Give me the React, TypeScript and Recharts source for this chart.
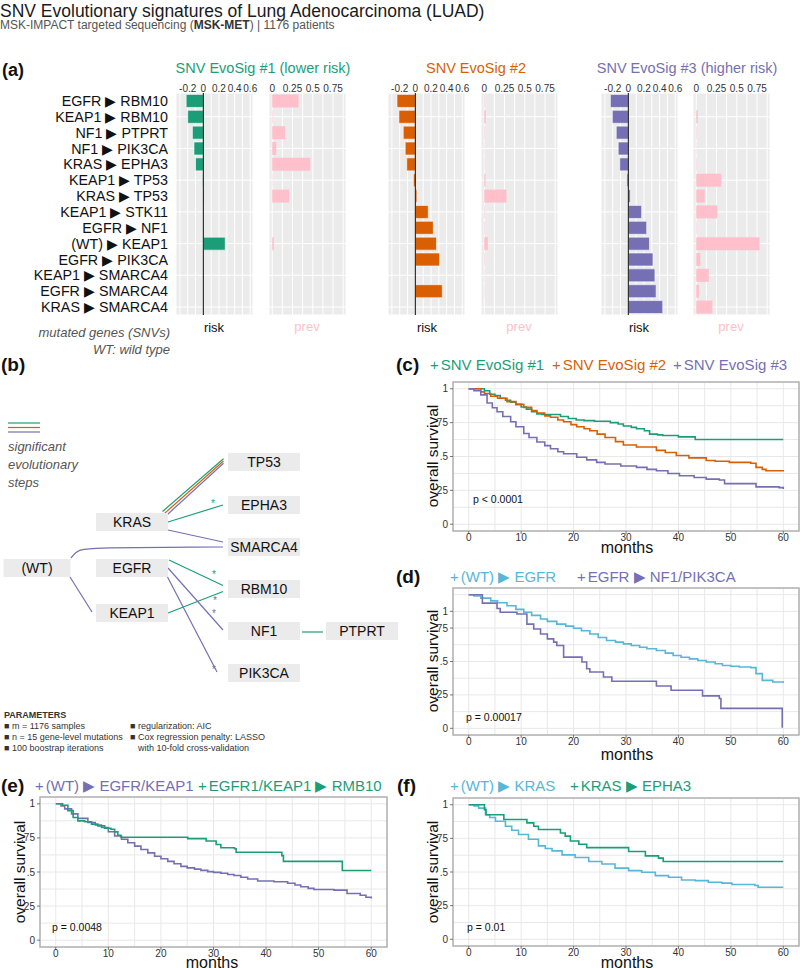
import React from 'react';
import {
  BarChart, Bar, XAxis, YAxis, CartesianGrid, ReferenceLine, LineChart, Line,
  ComposedChart, Scatter, ReferenceArea,
} from 'recharts';

const GREEN = '#1b9e77';
const ORANGE = '#d95f02';
const PURPLE = '#7570b3';
const PINK = '#ffc0cb';
const CYAN = '#56b7d6';
const FONT = '"Liberation Sans", Arial, sans-serif';

// ---- panel (a): evolutionary steps, risk and prevalence per signature ----
const steps = [
  'EGFR ▶ RBM10', 'KEAP1 ▶ RBM10', 'NF1 ▶ PTPRT', 'NF1 ▶ PIK3CA', 'KRAS ▶ EPHA3',
  'KEAP1 ▶ TP53', 'KRAS ▶ TP53', 'KEAP1 ▶ STK11', 'EGFR ▶ NF1', '(WT) ▶ KEAP1',
  'EGFR ▶ PIK3CA', 'KEAP1 ▶ SMARCA4', 'EGFR ▶ SMARCA4', 'KRAS ▶ SMARCA4',
];
const risk1 = [-0.22, -0.2, -0.14, -0.12, -0.1, -0.01, 0.01, 0, 0, 0.28, 0, 0, 0, 0];
const prev1 = [0.325, 0.005, 0.16, 0.05, 0.47, 0.003, 0.21, 0, 0, 0.02, 0, 0, 0, 0];
const risk2 = [-0.235, -0.21, -0.155, -0.13, -0.11, -0.025, 0.02, 0.165, 0.23, 0.27, 0.31, 0, 0.345, 0];
const prev2 = [0.005, 0.02, 0.005, 0.003, 0.003, 0.015, 0.275, 0.005, 0.005, 0.045, 0.005, 0.003, 0.003, 0];
const risk3 = [-0.23, -0.205, -0.155, -0.13, -0.11, -0.02, 0.025, 0.17, 0.235, 0.27, 0.315, 0.34, 0.355, 0.44];
const prev3 = [0, 0.02, 0.005, 0.003, 0.005, 0.31, 0.105, 0.26, 0.005, 0.78, 0.05, 0.155, 0.035, 0.2];

const riskTicks = [-0.3, -0.2, -0.1, 0, 0.1, 0.2, 0.3, 0.4, 0.5, 0.6];
const riskLabels: Record<string, string> = { '-0.2': '-0.2', '0': '0', '0.2': '0.2', '0.4': '0.4', '0.6': '0.6' };
const prevTicks = [0, 0.125, 0.25, 0.375, 0.5, 0.625, 0.75, 0.875];
const prevLabels: Record<string, string> = { '0': '0', '0.25': '0.25', '0.5': '0.5', '0.75': '0.75' };

// ---- panel (b): evolutionary tree (layout units) ----
const treeNodes = [
  { gene: 'TP53', x: 264, y: 462 }, { gene: 'EPHA3', x: 264, y: 505 },
  { gene: 'KRAS', x: 132, y: 522 }, { gene: 'SMARCA4', x: 264, y: 547 },
  { gene: '(WT)', x: 37, y: 568, w: 67 }, { gene: 'EGFR', x: 132, y: 568 },
  { gene: 'RBM10', x: 264, y: 589 }, { gene: 'KEAP1', x: 132, y: 613 },
  { gene: 'NF1', x: 264, y: 631 }, { gene: 'PTPRT', x: 362, y: 631 },
  { gene: 'PIK3CA', x: 264, y: 673 },
];
const treeEdges = [
  { from: [162.5, 511.5], to: [223.5, 458.8], color: GREEN },
  { from: [164.3, 513.6], to: [223.5, 461], color: ORANGE },
  { from: [166.1, 515.7], to: [223.5, 463.2], color: PURPLE },
  { from: [168, 522], to: [223, 505], color: GREEN },
  { from: [168, 530], to: [223, 542], color: PURPLE },
  { from: [70, 577], to: [92, 612], color: PURPLE },
  { from: [169, 560], to: [223, 585.5], color: GREEN },
  { from: [168, 613], to: [223, 591.5], color: GREEN },
  { from: [168, 568], to: [223, 630], color: PURPLE },
  { from: [167, 576], to: [217, 672], color: PURPLE },
  { from: [302, 632], to: [323, 632], color: GREEN },
  { from: [8, 423], to: [40, 423], color: GREEN },
  { from: [8, 427.5], to: [40, 427.5], color: ORANGE },
  { from: [8, 432], to: [40, 432], color: PURPLE },
];
const wtToSmarca4 = [
  { x: 71, y: 558 }, { x: 76, y: 552.5 }, { x: 84, y: 549.3 }, { x: 110, y: 547.8 }, { x: 223, y: 547 },
];
const treeStars = [
  { x: 213, y: 503, color: GREEN }, { x: 214, y: 574, color: GREEN }, { x: 215, y: 600, color: GREEN },
  { x: 214, y: 613, color: PURPLE }, { x: 214, y: 669, color: PURPLE },
];

// ---- survival curves [month, survival] ----
const survC1 = [[0, 1], [1.5, 1], [3, 0.985], [4, 0.96], [5, 0.95], [6, 0.93], [7, 0.915], [8, 0.9], [9, 0.885], [10, 0.865], [11, 0.85], [12, 0.83], [13, 0.815], [14, 0.81], [16.5, 0.81], [17.5, 0.795], [19, 0.78], [20.5, 0.77], [22, 0.765], [24, 0.76], [27, 0.75], [28.5, 0.74], [29.5, 0.725], [31, 0.715], [32, 0.705], [33.5, 0.69], [34.5, 0.665], [36, 0.66], [37, 0.655], [40, 0.645], [43.2, 0.625], [60, 0.625]];
const survC2 = [[0, 1], [1.5, 1], [2.3, 0.977], [3, 0.965], [4.2, 0.945], [5.5, 0.93], [7.3, 0.905], [9, 0.885], [10.5, 0.863], [12, 0.84], [13, 0.82], [14.5, 0.8], [15.6, 0.79], [17, 0.77], [18.1, 0.756], [19.5, 0.735], [20.6, 0.72], [22, 0.705], [23.1, 0.69], [24.5, 0.665], [26, 0.64], [28, 0.61], [29.5, 0.585], [32, 0.57], [35.8, 0.545], [37.5, 0.53], [39.6, 0.507], [42, 0.49], [45.3, 0.47], [47, 0.465], [49.7, 0.457], [53.8, 0.45], [54.8, 0.42], [56, 0.405], [56.7, 0.395], [60, 0.39]];
const survC3 = [[0, 1], [1, 0.985], [2.3, 0.955], [3.5, 0.895], [4.5, 0.86], [5.4, 0.83], [6.5, 0.795], [8, 0.756], [9, 0.72], [10.5, 0.67], [11.5, 0.64], [13, 0.607], [14.5, 0.58], [15.6, 0.557], [17, 0.535], [18.1, 0.52], [20.6, 0.495], [22.5, 0.475], [24.4, 0.457], [26, 0.445], [29, 0.43], [32, 0.42], [34, 0.405], [35.8, 0.395], [38, 0.375], [40.2, 0.358], [43, 0.345], [45.3, 0.333], [47.8, 0.326], [48.8, 0.3], [54.1, 0.3], [54.8, 0.276], [59.2, 0.27], [60, 0.26]];
const survD1 = [[0, 1], [1, 0.99], [2.3, 0.974], [4.2, 0.954], [5.5, 0.94], [7.3, 0.917], [9, 0.89], [10.5, 0.868], [12, 0.845], [13.7, 0.818], [15, 0.8], [16.8, 0.78], [18.5, 0.765], [20, 0.749], [21.5, 0.73], [23.1, 0.706], [24.7, 0.68], [26.3, 0.657], [28, 0.645], [29.5, 0.632], [31, 0.62], [32.6, 0.607], [34, 0.595], [35.8, 0.582], [37.5, 0.563], [39, 0.545], [40.5, 0.532], [42.1, 0.52], [43.7, 0.508], [45.3, 0.496], [47, 0.483], [48.4, 0.47], [50, 0.465], [51.6, 0.459], [53.8, 0.454], [54.8, 0.409], [56, 0.359], [58, 0.347], [60, 0.34]];
const survD2 = [[0, 1], [2.6, 0.937], [5.4, 0.897], [6, 0.868], [9.2, 0.855], [11.1, 0.78], [12.4, 0.743], [13.7, 0.706], [15, 0.669], [16.2, 0.645], [16.8, 0.62], [18.1, 0.533], [21.6, 0.496], [22.5, 0.446], [23.1, 0.421], [25.7, 0.384], [27.3, 0.352], [35.8, 0.317], [38.6, 0.285], [44.6, 0.243], [47.8, 0.223], [48.1, 0.149], [59.8, 0.005]];
const survE1 = [[0, 1], [1, 0.985], [1.7, 0.963], [3, 0.926], [4.2, 0.893], [6.1, 0.863], [7.5, 0.845], [8.7, 0.826], [10, 0.795], [11.2, 0.764], [12.5, 0.74], [13.7, 0.715], [15, 0.69], [16.2, 0.665], [17.5, 0.64], [18.8, 0.615], [20, 0.597], [21.3, 0.578], [22.5, 0.56], [23.8, 0.541], [25, 0.53], [26.4, 0.521], [27.6, 0.512], [28.9, 0.503], [30, 0.497], [31.4, 0.491], [32.7, 0.482], [33.9, 0.474], [35.2, 0.462], [36.5, 0.449], [38.4, 0.434], [41.5, 0.429], [44.1, 0.417], [45.5, 0.405], [46.6, 0.392], [48, 0.38], [49.1, 0.372], [52.9, 0.367], [55.4, 0.342], [57.9, 0.33], [59, 0.315], [60, 0.305]];
const survE2 = [[0, 1], [1.3, 0.99], [2.3, 0.95], [3.3, 0.9], [4.2, 0.875], [5.5, 0.868], [6.8, 0.851], [8, 0.838], [9.3, 0.821], [10.5, 0.814], [11.2, 0.794], [11.8, 0.769], [12.4, 0.755], [25.1, 0.745], [28.6, 0.727], [30.5, 0.702], [31.4, 0.678], [34, 0.67], [34.3, 0.645], [43, 0.62], [43.3, 0.578], [54.5, 0.511], [60, 0.511]];
const survF1 = [[0, 1], [1, 0.99], [1.9, 0.975], [3.2, 0.926], [4, 0.905], [5.1, 0.877], [7, 0.84], [8.2, 0.81], [9.5, 0.779], [11.4, 0.743], [13.3, 0.694], [14.6, 0.675], [15.9, 0.657], [17.8, 0.627], [20.3, 0.608], [22.9, 0.578], [25.4, 0.559], [27.9, 0.529], [30.5, 0.51], [33, 0.498], [35.6, 0.473], [38.1, 0.461], [40.6, 0.441], [43.2, 0.436], [45.7, 0.424], [48.3, 0.417], [50.2, 0.407], [54.6, 0.4], [55.2, 0.387], [60, 0.387]];
const survF2 = [[0, 1], [3, 0.963], [3.3, 0.926], [6.7, 0.89], [11.1, 0.865], [12.4, 0.84], [13.3, 0.816], [17.5, 0.79], [18.4, 0.767], [19.4, 0.73], [21, 0.706], [22.5, 0.681], [30.5, 0.652], [33.7, 0.62], [36.2, 0.603], [37.1, 0.578], [60, 0.578]];

const monthTicks = [0, 5, 10, 15, 20, 25, 30, 35, 40, 45, 50, 55, 60];
const survTicks = [0, 0.125, 0.25, 0.375, 0.5, 0.625, 0.75, 0.875, 1];
const survLabels: Record<string, string> = { '0': '0', '0.25': '.25', '0.5': '.5', '0.75': '.75', '1': '1' };
const survLabelsD: Record<string, string> = { '0': '0', '0.25': '.25', '0.5': '.5', '0.75': '.75', '0.875': '1' };

const toPts = (arr: number[][]) => arr.map(([m, s]) => ({ m, s }));

function Txt({ x, y, size = 13, anchor = 'start', color = '#111', weight = 400, italic = false, children }: any) {
  const tx = anchor === 'middle' ? '-50%' : anchor === 'end' ? '-100%' : '0';
  return (
    <div style={{
      position: 'absolute', left: x, top: y, transform: `translate(${tx}, -50%)`, fontSize: size, color,
      fontWeight: weight, fontStyle: italic ? 'italic' : 'normal', whiteSpace: 'nowrap', lineHeight: 1.15,
    }}>{children}</div>
  );
}

function BarPanel({ left, values, color, kind }: { left: number; values: number[]; color: string; kind: 'risk' | 'prev' }) {
  const data = steps.map((s, i) => ({ step: s, v: values[i] }));
  const risk = kind === 'risk';
  const pad = 14;
  const labels = risk ? riskLabels : prevLabels;
  const tick = (p: any) => {
    const lab = labels[String(p.payload.value)];
    if (lab === undefined) return <g />;
    return <text x={p.x} y={p.y - 1} textAnchor="middle" fontSize={10} fill="#333" fontFamily={FONT}>{lab}</text>;
  };
  return (
    <div style={{ position: 'absolute', left: left - pad, top: 78 }}>
      <BarChart width={77 + 2 * pad} height={237} data={data} layout="vertical"
        margin={{ top: 0, right: pad, bottom: 0, left: pad }} barCategoryGap="9%">
        <CartesianGrid fill="#ebebeb" stroke="#ffffff" strokeWidth={1} />
        <XAxis type="number" orientation="top" domain={risk ? [-0.35, 0.635] : [-0.04, 0.91]} allowDataOverflow
          ticks={risk ? riskTicks : prevTicks} interval={0} tick={tick} tickSize={0} tickMargin={0}
          axisLine={false} tickLine={false} height={15} />
        <YAxis type="category" dataKey="step" hide />
        <Bar dataKey="v" fill={color} stroke={risk ? '#ffffff' : 'none'} strokeWidth={0.6} isAnimationActive={false} />
        {risk && <ReferenceLine x={0} stroke="#222" strokeWidth={1.1} />}
      </BarChart>
    </div>
  );
}

function SurvPanel({ plotLeft, plotTop, plotW, plotH, series, labels = survLabels }: any) {
  const yAxisW = 50;
  const xTick = (p: any) => {
    const v = p.payload.value;
    if (v % 10 !== 0) return <g />;
    return (
      <g>
        <line x1={p.x} x2={p.x} y1={p.y} y2={p.y + 3} stroke="#555" strokeWidth={0.8} />
        <text x={p.x} y={p.y + 10} textAnchor="middle" fontSize={10} fill="#333" fontFamily={FONT}>{v}</text>
      </g>
    );
  };
  const yTick = (p: any) => {
    const lab = labels[String(p.payload.value)];
    if (lab === undefined) return <g />;
    return (
      <g>
        <line x1={p.x - 3} x2={p.x} y1={p.y} y2={p.y} stroke="#555" strokeWidth={0.8} />
        <text x={p.x - 5} y={p.y + 3.5} textAnchor="end" fontSize={10} fill="#333" fontFamily={FONT}>{lab}</text>
      </g>
    );
  };
  return (
    <div style={{ position: 'absolute', left: plotLeft - yAxisW, top: plotTop - 6 }}>
      <LineChart width={yAxisW + plotW + 2} height={6 + plotH + 22} margin={{ top: 6, right: 2, bottom: 0, left: 0 }}>
        <CartesianGrid stroke="#e8e8e8" strokeWidth={1} />
        <XAxis type="number" dataKey="m" domain={[-3, 63]} allowDataOverflow ticks={monthTicks} interval={0}
          tick={xTick} tickSize={0} tickMargin={0} axisLine={false} tickLine={false} height={22} />
        <YAxis type="number" dataKey="s" domain={[-0.05, 1.05]} allowDataOverflow ticks={survTicks} interval={0}
          tick={yTick} tickSize={0} tickMargin={0} axisLine={false} tickLine={false} width={yAxisW} />
        <ReferenceArea x1={-3} x2={63} y1={-0.05} y2={1.05} fill="none" stroke="#b3b3b3" strokeWidth={1.5} />
        {series.map((s: any, i: number) => (
          <Line key={i} data={toPts(s.data)} dataKey="s" type="stepAfter" stroke={s.color} strokeWidth={1.6}
            dot={false} isAnimationActive={false} />
        ))}
      </LineChart>
    </div>
  );
}

function Tree() {
  const nodeShape = (p: any) => {
    const w = p.payload.w || 72;
    return (
      <g>
        <rect x={p.cx - w / 2} y={p.cy - 9} width={w} height={18} fill="#ebebeb" />
        <text x={p.cx} y={p.cy + 5} textAnchor="middle" fontSize={14} fill="#111" fontFamily={FONT}>{p.payload.gene}</text>
      </g>
    );
  };
  const starShape = (p: any) => (
    <text x={p.cx} y={p.cy + 4} textAnchor="middle" fontSize={10} fill={p.payload.color} fontFamily={FONT}>*</text>
  );
  return (
    <div style={{ position: 'absolute', left: 0, top: 400 }}>
      <ComposedChart width={400} height={300} margin={{ top: 0, right: 0, bottom: 0, left: 0 }}>
        <XAxis type="number" dataKey="x" domain={[0, 400]} hide allowDataOverflow />
        <YAxis type="number" dataKey="y" domain={[400, 700]} reversed hide allowDataOverflow />
        {treeEdges.map((e, i) => (
          <ReferenceLine key={i} segment={[{ x: e.from[0], y: e.from[1] }, { x: e.to[0], y: e.to[1] }]}
            stroke={e.color} strokeWidth={1.2} />
        ))}
        <Line data={wtToSmarca4} dataKey="y" type="monotone" stroke={PURPLE} strokeWidth={1.2} dot={false} isAnimationActive={false} />
        <Scatter data={treeNodes} shape={nodeShape} isAnimationActive={false} />
        <Scatter data={treeStars} shape={starShape} isAnimationActive={false} />
      </ComposedChart>
    </div>
  );
}

const Plus = ({ color }: { color: string }) => <span style={{ color, fontWeight: 300, marginRight: 2 }}>+</span>;

export default function App() {
  return (
    <div style={{ position: 'absolute', left: 0, top: 0, width: 800, height: 968, background: '#fff', overflow: 'hidden', fontFamily: FONT, color: '#111' }}>
      <Txt x={0} y={11} size={17.5} color="#1a1a1a">SNV Evolutionary signatures of Lung Adenocarcinoma (LUAD)</Txt>
      <Txt x={0} y={26} size={12} color="#555">MSK-IMPACT targeted sequencing (<b style={{ color: '#333' }}>MSK-MET</b>) | 1176 patients</Txt>

      {/* (a) */}
      <Txt x={2} y={70} size={18} weight={700}>(a)</Txt>
      <Txt x={263} y={68} size={14.5} color={GREEN} anchor="middle">SNV EvoSig #1 (lower risk)</Txt>
      <Txt x={476} y={68} size={14.5} color={ORANGE} anchor="middle">SNV EvoSig #2</Txt>
      <Txt x={687} y={68} size={14.5} color={PURPLE} anchor="middle">SNV EvoSig #3 (higher risk)</Txt>
      {steps.map((s, i) => (
        <Txt key={s} x={168} y={93 + (i + 0.5) * (222 / 14)} size={14.3} anchor="end">{s}</Txt>
      ))}
      <BarPanel left={176} values={risk1} color={GREEN} kind="risk" />
      <BarPanel left={269} values={prev1} color={PINK} kind="prev" />
      <BarPanel left={388} values={risk2} color={ORANGE} kind="risk" />
      <BarPanel left={481} values={prev2} color={PINK} kind="prev" />
      <BarPanel left={601} values={risk3} color={PURPLE} kind="risk" />
      <BarPanel left={693} values={prev3} color={PINK} kind="prev" />
      {[214, 427, 639].map((x) => <Txt key={x} x={x} y={328} size={13} anchor="middle">risk</Txt>)}
      {[307, 519, 731].map((x) => <Txt key={x} x={x} y={327} size={13} anchor="middle" color={PINK}>prev</Txt>)}
      <Txt x={170} y={333} size={13} anchor="end" italic color="#555">mutated genes (SNVs)</Txt>
      <Txt x={170} y={350} size={13} anchor="end" italic color="#555">WT: wild type</Txt>

      {/* (b) */}
      <Txt x={1} y={365} size={19} weight={700}>(b)</Txt>
      <Txt x={8} y={447} size={13} italic color="#555">significant</Txt>
      <Txt x={8} y={465} size={13} italic color="#555">evolutionary</Txt>
      <Txt x={8} y={483} size={13} italic color="#555">steps</Txt>
      <Tree />
      <Txt x={4} y={715} size={9} weight={700} color="#333">PARAMETERS</Txt>
      <Txt x={4} y={726} size={9} color="#333">■ m = 1176 samples</Txt>
      <Txt x={4} y={737} size={9} color="#333">■ n = 15 gene-level mutations</Txt>
      <Txt x={4} y={748} size={9} color="#333">■ 100 boostrap iterations</Txt>
      <Txt x={130} y={726} size={9} color="#333">■ regularization: AIC</Txt>
      <Txt x={130} y={737} size={9} color="#333">■ Cox regression penalty: LASSO</Txt>
      <Txt x={138} y={748} size={9} color="#333">with 10-fold cross-validation</Txt>

      {/* (c) */}
      <Txt x={396} y={365} size={19} weight={700}>(c)</Txt>
      <Txt x={430} y={365} size={15} color={GREEN}><Plus color={GREEN} />SNV EvoSig #1</Txt>
      <Txt x={552} y={365} size={15} color={ORANGE}><Plus color={ORANGE} />SNV EvoSig #2</Txt>
      <Txt x={673} y={365} size={15} color={PURPLE}><Plus color={PURPLE} />SNV EvoSig #3</Txt>
      <SurvPanel plotLeft={453} plotTop={382} plotW={346} plotH={149}
        series={[{ data: survC1, color: GREEN }, { data: survC2, color: ORANGE }, { data: survC3, color: PURPLE }]} />
      <Txt x={473} y={499} size={10.5}>p &lt; 0.0001</Txt>
      <Txt x={627} y={548} size={16} anchor="middle">months</Txt>

      {/* (d) */}
      <Txt x={396} y={577} size={19} weight={700}>(d)</Txt>
      <Txt x={450} y={577} size={15} color={CYAN}><Plus color={CYAN} />(WT) ▶ EGFR</Txt>
      <Txt x={577} y={577} size={15} color={PURPLE}><Plus color={PURPLE} />EGFR ▶ NF1/PIK3CA</Txt>
      <SurvPanel plotLeft={453} plotTop={588} plotW={346} plotH={147} labels={survLabelsD}
        series={[{ data: survD1, color: CYAN }, { data: survD2, color: PURPLE }]} />
      <Txt x={466} y={717} size={10.5}>p = 0.00017</Txt>
      <Txt x={627} y={755} size={16} anchor="middle">months</Txt>

      {/* (e) */}
      <Txt x={1} y={786} size={19} weight={700}>(e)</Txt>
      <Txt x={35} y={786} size={15} color={PURPLE}><Plus color={PURPLE} />(WT) ▶ EGFR/KEAP1</Txt>
      <Txt x={198} y={786} size={15} color={GREEN}><Plus color={GREEN} />EGFR1/KEAP1 ▶ RMB10</Txt>
      <SurvPanel plotLeft={40} plotTop={797} plotW={347} plotH={150}
        series={[{ data: survE1, color: PURPLE }, { data: survE2, color: GREEN }]} />
      <Txt x={52} y={927} size={10.5}>p = 0.0048</Txt>
      <Txt x={212} y={963} size={16} anchor="middle">months</Txt>

      {/* (f) */}
      <Txt x={397} y={786} size={19} weight={700}>(f)</Txt>
      <Txt x={450} y={786} size={15} color={CYAN}><Plus color={CYAN} />(WT) ▶ KRAS</Txt>
      <Txt x={570} y={786} size={15} color={GREEN}><Plus color={GREEN} />KRAS ▶ EPHA3</Txt>
      <SurvPanel plotLeft={453} plotTop={798} plotW={346} plotH={148}
        series={[{ data: survF1, color: CYAN }, { data: survF2, color: GREEN }]} />
      <Txt x={467} y={927} size={10.5}>p = 0.01</Txt>
      <Txt x={627} y={963} size={16} anchor="middle">months</Txt>

      {/* y-axis titles */}
      {[[433, 456], [433, 661], [20, 872], [433, 872]].map(([x, y]) => (
        <div key={`${x}-${y}`} style={{ position: 'absolute', left: x, top: y, transform: 'translate(-50%, -50%) rotate(-90deg)', fontSize: 15.5, whiteSpace: 'nowrap', lineHeight: 1 }}>overall survival</div>
      ))}
    </div>
  );
}
